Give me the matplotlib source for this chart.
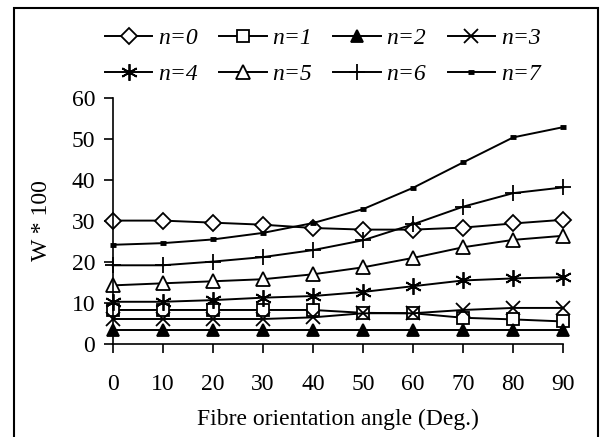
import matplotlib.pyplot as plt
from matplotlib.patches import Rectangle

plt.rcParams['font.family'] = ['Liberation Serif', 'DejaVu Serif']

angle = [0, 10, 20, 30, 40, 50, 60, 70, 80, 90]
w_n0 = [30.1, 30.1, 29.6, 29.1, 28.3, 27.9, 27.9, 28.4, 29.4, 30.3]
w_n1 = [8.3, 8.3, 8.3, 8.3, 8.3, 7.6, 7.5, 6.4, 6.0, 5.5]
w_n2 = [3.4, 3.4, 3.4, 3.4, 3.4, 3.4, 3.4, 3.4, 3.4, 3.4]
w_n3 = [6.1, 6.1, 6.1, 6.1, 6.5, 7.5, 7.5, 8.3, 8.8, 8.8]
w_n4 = [10.3, 10.3, 10.7, 11.3, 11.7, 12.7, 14.1, 15.5, 16.0, 16.3]
w_n5 = [14.3, 14.8, 15.3, 15.8, 17.0, 18.7, 21.0, 23.6, 25.4, 26.4]
w_n6 = [19.2, 19.2, 20.1, 21.2, 22.9, 25.3, 29.2, 33.5, 36.8, 38.2]
w_n7 = [24.2, 24.6, 25.5, 27.1, 29.5, 32.9, 38.1, 44.3, 50.4, 52.9]

series = [w_n0, w_n1, w_n2, w_n3, w_n4, w_n5, w_n6, w_n7]
labels = ['n=0', 'n=1', 'n=2', 'n=3', 'n=4', 'n=5', 'n=6', 'n=7']

# (marker, size, face colour)
styles = [('D', 8.5, 'white'), ('s', 8, 'white'), ('^', 9, 'black'), ('x', 10, 'black'),
          ((6, 2, 0), 12, 'black'), ('^', 9.5, 'white'), ('+', 12, 'black'), ('_', 5, 'black')]

FS = 17

fig = plt.figure(figsize=(6.08, 4.37), dpi=100)
ax = fig.add_axes([0.1853, 0.2128, 0.7412, 0.5629])

handles = []
for ys, lab, (mk, ms, fc) in zip(series, labels, styles):
    mew = 3.5 if mk == '_' else 1.3
    h, = ax.plot(angle, ys, color='black', lw=1.4, marker=mk, markersize=ms,
                 markerfacecolor=fc, markeredgecolor='black', markeredgewidth=mew,
                 clip_on=False, label=lab)
    handles.append(h)

ax.set_xlim(0, 90)
ax.set_ylim(0, 60)
ax.set_xticks(angle)
ax.set_yticks(range(0, 61, 10))
for s in ['top', 'right']:
    ax.spines[s].set_visible(False)
ax.spines['left'].set_linewidth(1.2)
ax.spines['bottom'].set_linewidth(1.2)
ax.tick_params(direction='out', length=6.5, width=1.2, labelsize=FS)
ax.tick_params(axis='x', pad=15)
ax.tick_params(axis='y', pad=6)
ax.set_xlabel('Fibre orientation angle (Deg.)', fontsize=FS, labelpad=10)
ax.set_ylabel('W * 100', fontsize=FS, labelpad=14)

# matplotlib fills legend columns first, reorder so the rows read 0-3 and 4-7
order = [0, 4, 1, 5, 2, 6, 3, 7]
leg = fig.legend(handles=[handles[i] for i in order], labels=[labels[i] for i in order],
                 ncol=4, loc='upper center', bbox_to_anchor=(0.531, 0.969), frameon=False,
                 prop={'style': 'italic', 'size': FS},
                 handlelength=2.0, handletextpad=0.25, columnspacing=0.9,
                 labelspacing=0.62, borderaxespad=0.2)

fig.patches.append(Rectangle((14 / 608, -0.05), (598 - 14) / 608, 1.05 - 8 / 437,
                             transform=fig.transFigure, fill=False,
                             edgecolor='black', lw=1.5))

fig.savefig('out.png', dpi=100)
